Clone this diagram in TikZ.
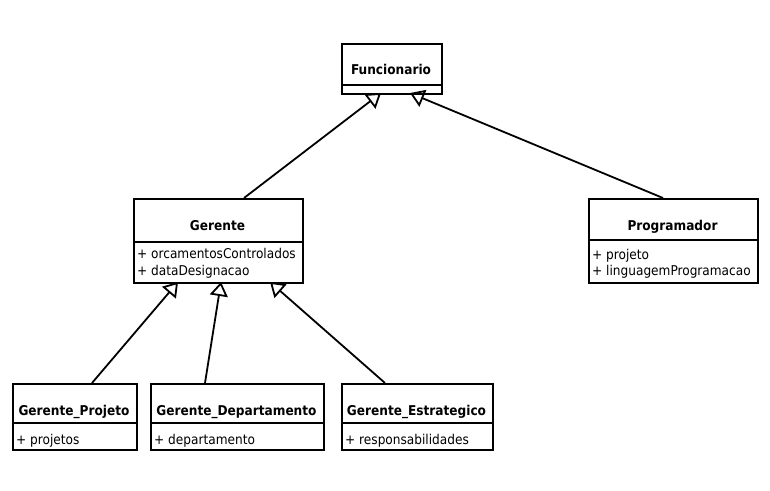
\documentclass[tikz,border=0pt]{standalone}
\usepackage{fontspec}
\setmainfont{DejaVu Sans Condensed}
\usetikzlibrary{arrows.meta}
\tikzset{
  umlline/.style={line width=1.8pt, draw=black},
  umltitle/.style={font=\fontsize{13.5}{15}\selectfont\bfseries, inner sep=0pt, anchor=base},
  umlattr/.style={font=\fontsize{13.5}{15}\selectfont, inner sep=0pt, anchor=base west},
  inh/.style={line width=1.8pt, -{Triangle[open, length=14pt, width=18pt, line width=1.8pt]}}
}
% name, x1, y1, x2, ydiv, y2, title, title baseline
\newcommand\umlclassbox[8]{%
  \node[umlline, draw, anchor=north west, inner sep=0pt,
        minimum width={#4-#2}, minimum height={#6-#3}] (#1) at (#2,#3) {};
  \draw[umlline] (#2,#5) -- (#4,#5);
  \node[umltitle] (#1-title) at ({(#2+#4)/2},#8) {#7};
}
\begin{document}
\begin{tikzpicture}[x=1pt,y=-1pt]
\fill[white] (0,0) rectangle (770,490);
\useasboundingbox (0,0) rectangle (770,490);

\umlclassbox{func}{341}{43}{441}{85}{93}{Funcionario}{74}
\umlclassbox{ger}{133}{198}{302}{242}{282}{Gerente}{230}
\umlclassbox{prog}{588}{198}{757}{240}{282}{Programador}{230}
\umlclassbox{gp}{12}{383}{136}{423}{449}{Gerente\_Projeto}{415}
\umlclassbox{gd}{150}{383}{323}{423}{449}{Gerente\_Departamento}{415}
\umlclassbox{ge}{341}{383}{492}{423}{449}{Gerente\_Estrategico}{415}

\node[umlattr] (ger-a1) at (137,258) {+ orcamentosControlados};
\node[umlattr] (ger-a2) at (137,275) {+ dataDesignacao};
\node[umlattr] (prog-a1) at (592,259) {+ projeto};
\node[umlattr] (prog-a2) at (592,275) {+ linguagemProgramacao};
\node[umlattr] (gp-a1) at (16,444) {+ projetos};
\node[umlattr] (gd-a1) at (154,444) {+ departamento};
\node[umlattr] (ge-a1) at (345,444) {+ responsabilidades};

\coordinate (func-t1) at (381,93);
\coordinate (func-t2) at (410,93);
\coordinate (ger-s) at (244,198);
\coordinate (prog-s) at (663,198);
\coordinate (ger-t1) at (178,282);
\coordinate (ger-t2) at (221,282);
\coordinate (ger-t3) at (270,282);
\coordinate (gp-s) at (92,383);
\coordinate (gd-s) at (205,383);
\coordinate (ge-s) at (385,383);

\draw[inh] (ger-s) -- (func-t1);
\draw[inh] (prog-s) -- (func-t2);
\draw[inh] (gp-s) -- (ger-t1);
\draw[inh] (gd-s) -- (ger-t2);
\draw[inh] (ge-s) -- (ger-t3);
\end{tikzpicture}
\end{document}
